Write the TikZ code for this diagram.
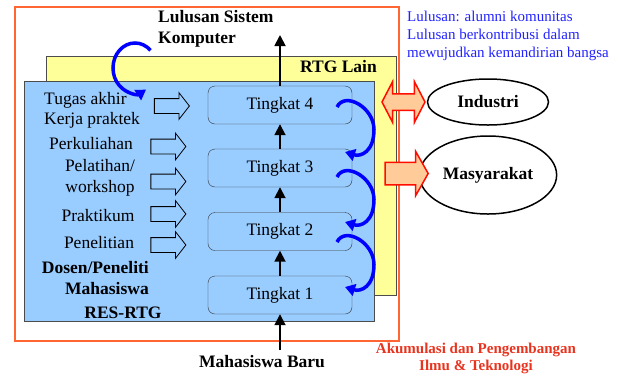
\documentclass[tikz,border=0pt]{standalone}
\usepackage{fontspec}
\setmainfont{Liberation Serif}
\usetikzlibrary{arrows.meta,shapes.arrows,shapes.geometric,calc,positioning}
\definecolor{biru}{HTML}{99CCFF}
\definecolor{kuning}{HTML}{FFFF99}
\definecolor{jingga}{HTML}{FF6633}
\definecolor{persik}{HTML}{FFCC99}
\definecolor{merah}{HTML}{E8331E}
\definecolor{birutua}{HTML}{2222FF}
\newcommand{\besar}{\fontsize{17.5}{21}\selectfont}
\newcommand{\kecil}{\fontsize{15}{18}\selectfont}
\tikzset{tingkat/.style={draw=black!80,fill=biru,rounded corners=7pt,minimum width=144pt,minimum height=38pt,font=\besar}}
\tikzset{teks/.style={font=\besar,inner sep=0pt}}
\tikzset{tebal/.style={teks,font=\besar\bfseries}}
\tikzset{blok/.style={single arrow,draw,line width=0.8pt,minimum height=35pt,inner xsep=0pt,inner ysep=7pt,single arrow head extend=6pt,single arrow tip angle=104}}
\tikzset{keluar/.style={draw=red!90!orange,fill=persik,line width=1.5pt,minimum height=43pt,inner xsep=0pt}}
\tikzset{mitra/.style={ellipse,draw,line width=1.5pt,minimum width=121pt,font=\besar\bfseries}}
\tikzset{naik/.style={-{Triangle[length=11pt,width=11pt]},line width=1.8pt}}
\tikzset{putar/.style={blue,line width=3.5pt,-{Triangle[length=10pt,width=12pt]}}}

\begin{document}
\begin{tikzpicture}[x=1pt,y=-1pt]
\useasboundingbox (0,0) rectangle (621,376);

% bingkai
\draw[jingga,line width=2pt,fill=white] (15,7) rectangle (399,341);
\draw[black!70,fill=kuning] (46,56) rectangle (396,295);
\draw[black!70,line width=1pt,fill=biru] (24,81) rectangle (374,321);
\node[tebal,anchor=east] (lain) at (377,67) {RTG Lain};

% tingkat
\foreach \n/\y in {1/295,2/231.5,3/168,4/105}
\node[tingkat] (t\n) at (280,\y) {Tingkat \n};

\foreach \a/\b in {1/2,2/3,3/4}
\draw[naik] (t\a) -- (t\b);

\node[tebal,anchor=west,align=left] (lulusan) at (158,29) {Lulusan Sistem\\Komputer};
\coordinate (atas) at (280,35);
\draw[naik] (t4) -- (atas);

\node[tebal] (baru) at (262,362) {Mahasiswa Baru};
\coordinate (bawah) at (280,350);
\draw[naik] (bawah) -- (t1);

% kegiatan
\node[teks,anchor=west,align=left,font=\fontsize{17.5}{20}\selectfont] (tugas) at (44,110) {Tugas akhir\\Kerja praktek};
\node[teks] (kuliah) at (91,144) {Perkuliahan};
\node[teks,align=center] (latih) at (100,178) {Pelatihan/\\workshop};
\node[teks] (praktikum) at (98,216) {Praktikum};
\node[teks] (teliti) at (99,243) {Penelitian};
\node[tebal,anchor=east,align=right] (dosen) at (149,278) {Dosen/Peneliti\\Mahasiswa};
\node[tebal] (res) at (123,313) {RES-RTG};

\node[blok] (b1) at (169,106) {};
\foreach \y [count=\i from 2] in {146.5,181.5,214,245}
\node[blok] (b\i) at (165.5,\y) {};

% umpan balik
\coordinate (pusat) at (135,68);
\draw[putar] ($(pusat)+(-45:22 and 25)$) arc[start angle=-45,end angle=-300,x radius=22,y radius=25];

\foreach \a/\b/\s/\e in {4/3/2/-16,3/2/9/-9.5,2/1/10.5/-8}{
\coordinate (s\a) at ($(t\a)+(57,\s)$);
\coordinate (e\b) at ($(t\b)+(65,\e)$);
\draw[putar] (s\a) .. controls +(8,-16) and +(0,-22) .. ($(s\a)!0.5!(e\b)+(33,0)$)
  .. controls +(0,22) and +(16,5) .. (e\b);
}

% luar
\node[mitra,minimum height=46pt] (industri) at (488,102) {Industri};
\node[mitra,minimum height=78pt] (masyarakat) at (488,175) {Masyarakat};
\node[keluar,double arrow,inner ysep=7.5pt,double arrow head extend=12pt,double arrow tip angle=125] (dua) at (403.5,102) {};
\node[keluar,single arrow,inner ysep=10.5pt,single arrow head extend=11pt,single arrow tip angle=121] (satu) at (403.5,173.5) {};

\node[anchor=west,align=left,text=birutua,font=\kecil,inner sep=0pt] (catatan) at (407,36)
{Lulusan: alumni komunitas\\Lulusan berkontribusi dalam\\mewujudkan kemandirian bangsa};
\node[align=center,text=merah,font=\fontsize{15}{17}\selectfont\bfseries,inner sep=0pt] (ilmu) at (476,358)
{Akumulasi dan Pengembangan\\Ilmu \& Teknologi};
\end{tikzpicture}
\end{document}
